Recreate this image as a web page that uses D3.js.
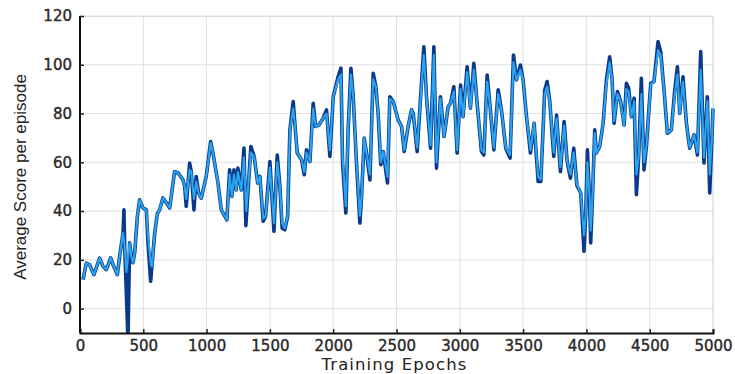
<!DOCTYPE html>
<html>
<head>
<meta charset="utf-8">
<script src="https://cdn.jsdelivr.net/npm/d3@7"></script>
<style>
  html, body { margin: 0; padding: 0; background: #fff; }
  #chart { width: 735px; height: 374px; }
  .tick-label { font-family: "DejaVu Sans", sans-serif; font-size: 15px; fill: #2a2a2a; stroke: #2a2a2a; stroke-width: 0.4px; }
</style>
</head>
<body>
<div id="chart"></div>
<script>
// raw score per episode (dark trace), [epoch, score]
const darkRun = [
  [24, 11.9], [50, 18.7], [76, 18], [110, 13.9], [155, 20.7], [182, 17.3], [208, 16], [242, 20.8],
  [261, 18], [295, 13.9], [313, 21.4], [340, 31], [347, 40.5], [353, 25.5], [366, 6.5], [379, -13],
  [392, 27], [405, 21.4], [418, 18.8], [432, 22.9], [453, 37.8], [471, 44.6], [497, 41.3], [524, 40.5],
  [537, 27], [558, 11.2], [568, 17.3], [590, 31], [611, 39], [629, 40.5], [655, 45.4], [682, 43.4],
  [708, 41.3], [747, 56.2], [774, 55.7], [813, 52.8], [827, 50.1], [839, 41.9], [866, 59.7], [879, 56.2],
  [900, 40.5], [918, 54.2], [937, 47.4], [958, 45.3], [997, 54.2], [1032, 68.5], [1050, 63.8], [1090, 51.5],
  [1116, 40.5], [1160, 36.4], [1182, 56.9], [1200, 46], [1216, 56.9], [1234, 48.7], [1247, 57.6], [1274, 48.7],
  [1295, 65.8], [1310, 34], [1350, 66.5], [1376, 62.4], [1403, 51.5], [1421, 54.2], [1447, 35.8], [1466, 37.8],
  [1500, 60.3], [1532, 31.7], [1558, 63], [1579, 50.1], [1597, 33], [1618, 32.3], [1640, 37.8], [1658, 73.3],
  [1684, 84.9], [1697, 76], [1716, 63.8], [1750, 61], [1771, 54.9], [1789, 65.1], [1816, 60.3], [1842, 84.2],
  [1861, 74.7], [1887, 75.3], [1921, 78.1], [1947, 81.5], [1974, 62.4], [2000, 86.9], [2039, 95.1], [2061, 98.6],
  [2074, 59.7], [2100, 39.2], [2118, 73.3], [2140, 98.6], [2158, 86.9], [2184, 59.7], [2211, 35.1], [2224, 46],
  [2245, 69.9], [2263, 63.8], [2290, 52.8], [2316, 96.5], [2337, 91], [2355, 80.1], [2376, 59], [2395, 64.4],
  [2429, 51.5], [2447, 86.9], [2474, 84.9], [2513, 77.4], [2540, 74.7], [2561, 64.4], [2592, 74.7], [2619, 81.5],
  [2632, 80.1], [2663, 64.4], [2684, 81.5], [2716, 107.4], [2737, 86.9], [2769, 65.8], [2795, 107.4], [2816, 57.6],
  [2847, 86.9], [2876, 70.6], [2908, 82.8], [2927, 84.2], [2953, 91], [2979, 63.8], [3006, 91.7], [3026, 78.7],
  [3058, 99.2], [3084, 82.2], [3111, 100.6], [3132, 86.9], [3171, 64.4], [3190, 63], [3216, 95.8], [3237, 84.2],
  [3269, 65.1], [3303, 89.7], [3329, 81.5], [3363, 65.8], [3397, 61.7], [3424, 104], [3448, 93.8], [3479, 99.9],
  [3500, 93.8], [3527, 78.7], [3558, 63.8], [3587, 76], [3619, 52.1], [3640, 52.1], [3671, 89.7], [3690, 93.1],
  [3711, 84.9], [3742, 62.4], [3764, 79.4], [3795, 56.2], [3824, 76.7], [3848, 60.3], [3874, 53.5], [3900, 65.8],
  [3925, 50.5], [3955, 47.4], [3966, 37.8], [3981, 23.5], [3995, 39.2], [4008, 65.1], [4026, 43.3], [4034, 26.9],
  [4048, 46], [4066, 73.3], [4079, 63.8], [4105, 66.5], [4132, 76], [4158, 93.8], [4184, 103.3], [4203, 93.8],
  [4219, 76], [4245, 89], [4271, 84.9], [4298, 75.3], [4316, 92.4], [4334, 90.4], [4356, 78.7], [4377, 86.3],
  [4395, 46.7], [4413, 62.4], [4434, 94.5], [4455, 56.9], [4474, 66.5], [4508, 92.4], [4534, 93.1], [4566, 109.5],
  [4587, 105.4], [4613, 89.7], [4640, 71.9], [4671, 73.3], [4698, 89.7], [4719, 99.2], [4737, 80.1], [4763, 95.1],
  [4790, 76], [4816, 65.8], [4850, 71.3], [4877, 63], [4903, 105.4], [4929, 59.7], [4955, 86.9], [4974, 47.4],
  [4992, 70.6], [5000, 82]
];

// smoothed score (light trace), [epoch, score]
const lightRun = [
  [24, 11.9], [50, 18.7], [76, 18], [110, 13.9], [155, 20.7], [182, 17.3], [208, 16], [242, 20.8],
  [261, 18], [295, 13.9], [313, 21.4], [340, 31], [353, 25.5], [366, 15], [392, 27], [405, 21.4],
  [418, 18.8], [432, 22.9], [453, 37.8], [471, 44.6], [497, 41.3], [524, 40.5], [537, 30], [560, 18],
  [568, 17.3], [590, 31], [611, 39], [629, 40.5], [655, 45.4], [682, 43.4], [708, 41.3], [747, 56.2],
  [774, 55.7], [813, 52.8], [827, 50.1], [839, 45], [866, 57], [879, 56.2], [900, 45], [918, 52],
  [937, 47.4], [958, 45.3], [997, 54.2], [1032, 68], [1050, 63.8], [1090, 51.5], [1116, 40.5], [1160, 36.4],
  [1182, 55], [1200, 46], [1216, 55], [1234, 48.7], [1247, 56], [1274, 48.7], [1295, 62], [1313, 40],
  [1350, 64], [1376, 62.4], [1403, 51.5], [1421, 54.2], [1447, 37], [1466, 37.8], [1500, 58], [1532, 35],
  [1558, 60], [1579, 50.1], [1597, 35], [1618, 33], [1640, 37.8], [1658, 73.3], [1684, 82], [1697, 76],
  [1716, 63.8], [1750, 61], [1771, 56], [1789, 64], [1816, 60.3], [1842, 82], [1861, 74.7], [1887, 75.3],
  [1921, 78.1], [1947, 80], [1974, 65], [2000, 86.9], [2039, 94], [2061, 96], [2074, 62], [2100, 42],
  [2118, 73.3], [2140, 96], [2158, 86.9], [2184, 60], [2211, 38], [2224, 46], [2245, 69.9], [2263, 63.8],
  [2290, 55], [2316, 94], [2337, 91], [2355, 80.1], [2376, 60], [2395, 64.4], [2429, 54], [2447, 86],
  [2474, 84.9], [2513, 77.4], [2540, 74.7], [2561, 65], [2592, 74.7], [2619, 81.5], [2632, 80], [2663, 66],
  [2684, 81.5], [2716, 104], [2737, 86.9], [2769, 67], [2795, 104], [2816, 60], [2847, 86], [2876, 70.6],
  [2908, 82.8], [2927, 84.2], [2953, 89], [2979, 65], [3006, 90], [3026, 78.7], [3058, 97], [3084, 82.2],
  [3111, 98], [3132, 86.9], [3171, 65], [3190, 64], [3216, 93], [3237, 84.2], [3269, 66], [3303, 88],
  [3329, 81.5], [3363, 66], [3397, 63], [3424, 101], [3448, 93.8], [3479, 98], [3500, 93.8], [3527, 78.7],
  [3558, 65], [3587, 76], [3619, 54], [3640, 53], [3671, 88], [3690, 91], [3711, 84.9], [3742, 64],
  [3764, 78], [3795, 58], [3824, 75], [3848, 60.3], [3874, 55], [3900, 64], [3925, 51], [3955, 47.4],
  [3966, 40], [3981, 30], [3995, 39.2], [4008, 60], [4026, 45], [4034, 32], [4048, 46], [4066, 72],
  [4079, 63.8], [4105, 66.5], [4132, 76], [4158, 92], [4184, 101], [4203, 93.8], [4219, 77], [4245, 88],
  [4271, 84.9], [4298, 75.3], [4316, 90], [4334, 89], [4356, 78.7], [4377, 85], [4395, 55], [4413, 62.4],
  [4434, 88], [4455, 60], [4474, 66.5], [4508, 92], [4534, 93.1], [4566, 106], [4587, 104], [4613, 89.7],
  [4640, 72], [4671, 73.3], [4698, 88], [4719, 96], [4737, 80.1], [4763, 93], [4790, 76], [4816, 66],
  [4850, 71.3], [4877, 64], [4903, 98], [4929, 62], [4955, 85], [4974, 55], [4992, 70.6], [5000, 82]
];

const xTicks = [0, 500, 1000, 1500, 2000, 2500, 3000, 3500, 4000, 4500, 5000];
const yTicks = [0, 20, 40, 60, 80, 100, 120];

const margin = { left: 80, top: 16, right: 22, bottom: 41 };
const width = 735, height = 374;
const contentWidth = width - margin.left - margin.right;
const contentHeight = height - margin.top - margin.bottom;

const svg = d3.select('#chart')
  .append('svg')
  .attr('width', width)
  .attr('height', height);

const g = svg.append('g')
  .attr('transform', 'translate(' + margin.left + ', ' + margin.top + ')');

const x = d3.scaleLinear().domain([0, 5000]).range([0, contentWidth]);
const y = d3.scaleLinear().domain([-10, 120]).range([contentHeight, 0]);

// grid
g.append('g')
  .selectAll('line.vgrid')
  .data(xTicks.slice(1))
  .enter().append('line')
  .attr('x1', d => x(d)).attr('x2', d => x(d))
  .attr('y1', 0).attr('y2', contentHeight)
  .attr('stroke', '#e2e2e2').attr('stroke-width', 1);

g.append('g')
  .selectAll('line.hgrid')
  .data(yTicks)
  .enter().append('line')
  .attr('x1', 0).attr('x2', contentWidth)
  .attr('y1', d => y(d)).attr('y2', d => y(d))
  .attr('stroke', '#e2e2e2').attr('stroke-width', 1);

// light box top / right
g.append('path')
  .attr('d', 'M0,0.5H' + contentWidth + 'V' + contentHeight)
  .attr('fill', 'none').attr('stroke', '#dcdcdc');

svg.append('defs').append('clipPath').attr('id', 'plot-clip')
  .append('rect').attr('x', 0).attr('y', -10).attr('width', contentWidth + 10).attr('height', contentHeight + 10);

const line = d3.line()
  .x(d => x(d[0]))
  .y(d => y(d[1]));

const traces = g.append('g').attr('clip-path', 'url(#plot-clip)');

traces.append('path')
  .datum(darkRun)
  .attr('d', line)
  .attr('fill', 'none')
  .attr('stroke', '#0b3a8a')
  .attr('stroke-width', 3.6)
  .attr('stroke-linejoin', 'round');

traces.append('path')
  .datum(lightRun)
  .attr('d', line)
  .attr('fill', 'none')
  .attr('stroke', '#2ba4f0')
  .attr('stroke-width', 2.1)
  .attr('stroke-linejoin', 'round');

// axes
const xAxisGroup = g.append('g')
  .attr('transform', 'translate(0, ' + contentHeight + ')')
  .call(d3.axisBottom(x).tickValues(xTicks).tickFormat(d3.format('d'))
    .tickSizeInner(-4).tickSizeOuter(-4).tickPadding(7));

const yAxisGroup = g.append('g')
  .call(d3.axisLeft(y).tickValues(yTicks).tickFormat(d3.format('d'))
    .tickSizeInner(-4).tickSizeOuter(0).tickPadding(8));

[xAxisGroup, yAxisGroup].forEach(ax => {
  ax.select('.domain').attr('stroke', '#111').attr('stroke-width', 2);
  ax.selectAll('.tick line').attr('stroke', '#222').attr('stroke-width', 1.5);
  ax.selectAll('.tick text').attr('class', 'tick-label');
});

// left axis spans the whole plot height (up to 120)
yAxisGroup.select('.domain').attr('d', 'M0,0V' + contentHeight);

svg.append('text')
  .attr('x', margin.left + x(2500) - 2)
  .attr('y', 370)
  .attr('text-anchor', 'middle')
  .style('font-family', '"DejaVu Sans", sans-serif')
  .style('font-size', '16.5px')
  .style('letter-spacing', '1.1px')
  .style('fill', '#222')
  .text('Training Epochs');

svg.append('text')
  .attr('transform', 'translate(26, 177) rotate(-90)')
  .attr('text-anchor', 'middle')
  .style('font-family', '"Liberation Sans Narrow", "Arial Narrow", sans-serif')
  .style('font-size', '17px')
  .style('fill', '#222')
  .text('Average Score per episode');
</script>
</body>
</html>
